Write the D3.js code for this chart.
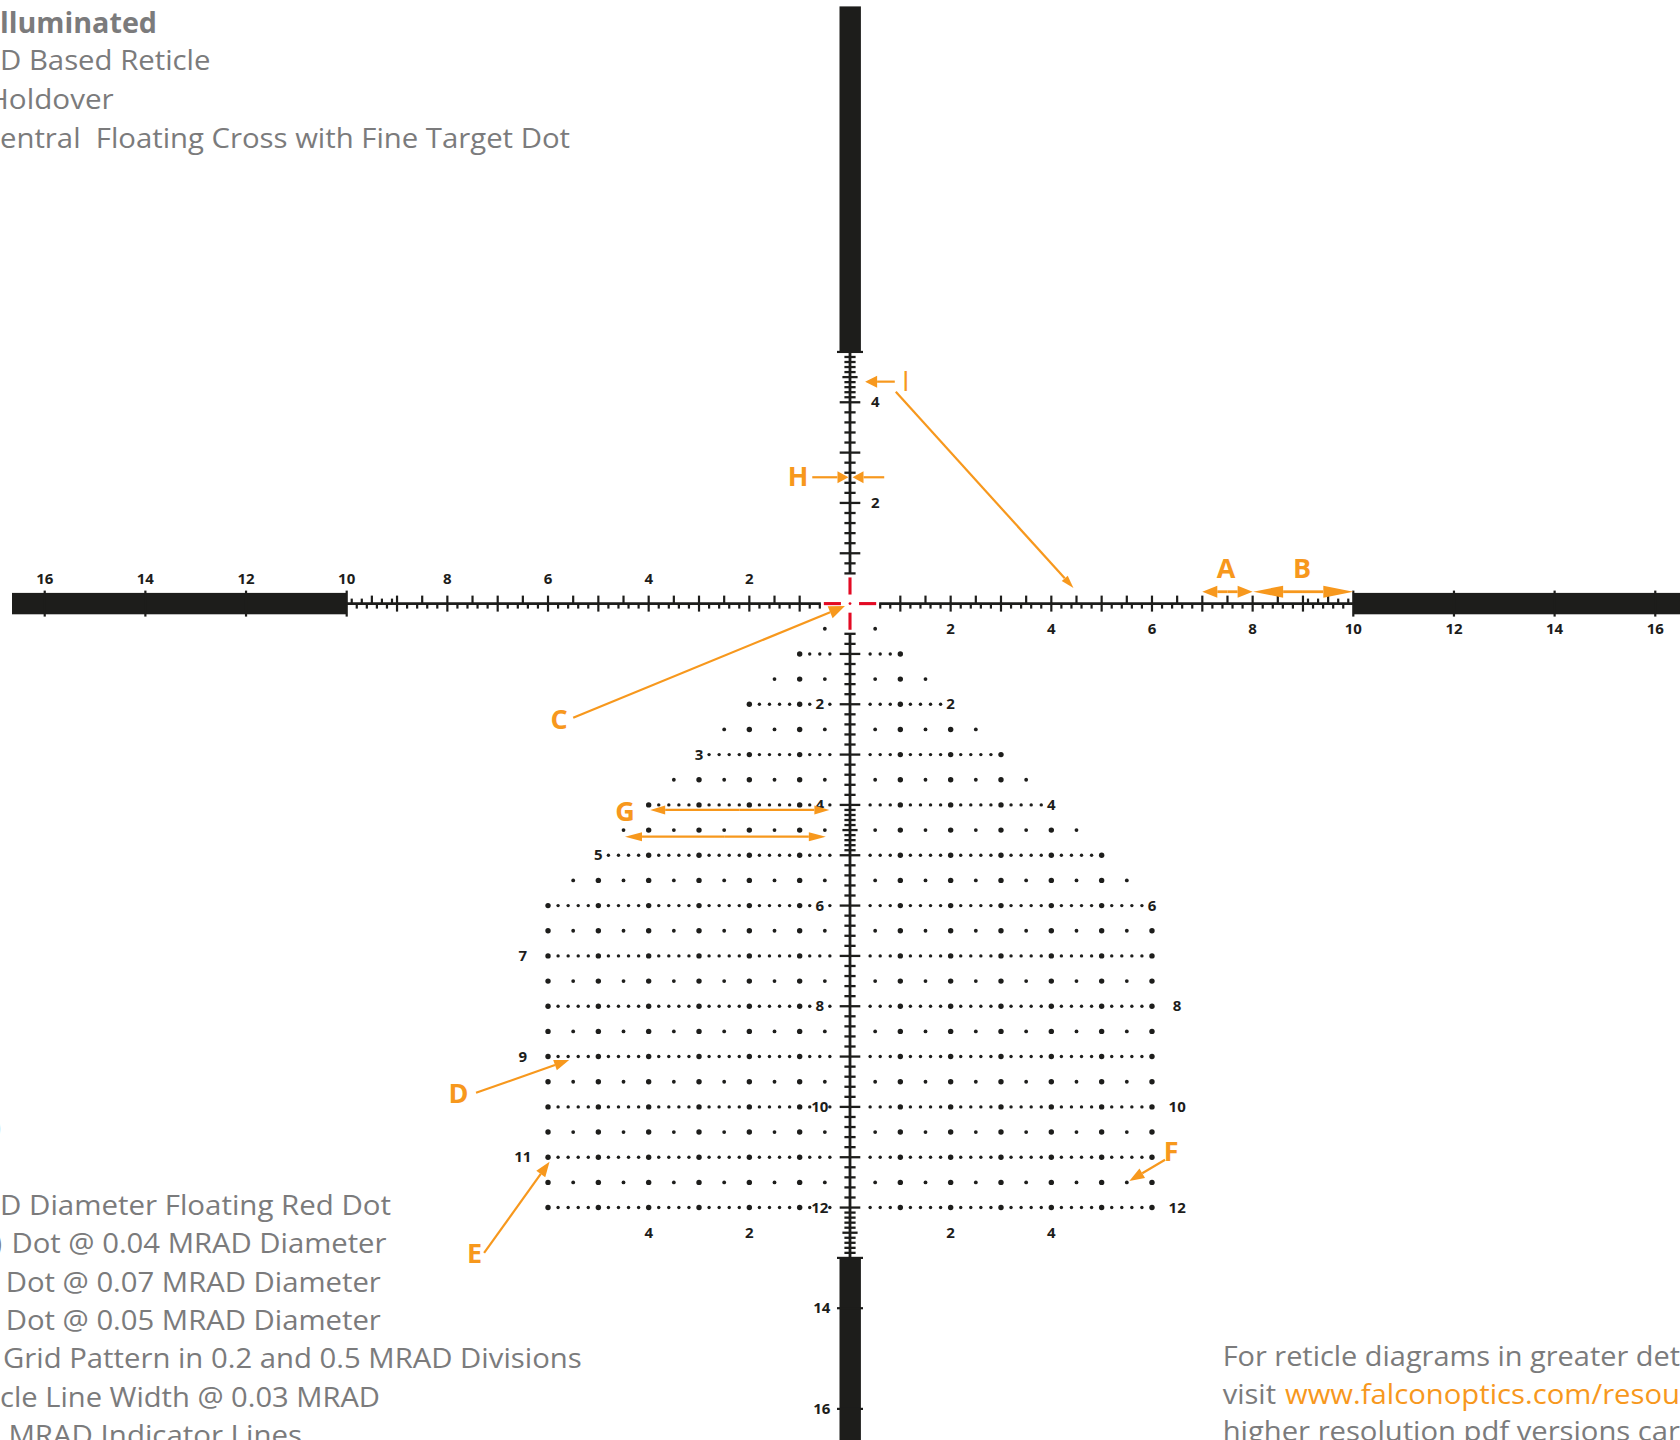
<!DOCTYPE html>
<html><head><meta charset="utf-8">
<script src="https://cdnjs.cloudflare.com/ajax/libs/d3/7.8.5/d3.min.js"></script>
<style>html,body{margin:0;padding:0;background:#fff;overflow:hidden}svg{display:block}</style>
</head><body>
<svg id="c" width="1680" height="1440"></svg>
<script>
// ---- data (all in MRAD from reticle centre; y positive is downward) ----
const rowDepths     = [0.5,1,1.5,2,2.5,3,3.5,4,4.5,5,5.5,6,6.5,7,7.5,8,8.5,9,9.5,10,10.5,11,11.5,12];
const rowLeftLimit  = [0.5,1,1.5,2,2.5,2.8,3.5,4,4.5,4.8,5.5,6,6,6,6,6,6,6,6,6,6,6,6,6];
const rowRightLimit = [0.5,1,1.5,1.8,2.5,3,3.5,3.8,4.5,5,5.5,5.8,6,6,6,6,6,6,6,6,6,6,6,6];
const rowsWithInnerLabel = [2,4,6,8,10,12];
const leftAxisLabels  = [16,14,12,10,8,6,4,2];
const rightAxisLabels = [2,4,6,8,10,12,14,16];
const upAxisLabels    = [2,4];
const downAxisLabels  = [14,16];
const barTicks  = [10,12,14,16];
const downBarTicks = [13,14,16];
const gridLabelText = ["2","4","6","8","10","12","2","3","4","5","6","7","8","9","10","11","12","4","2","2","4"];
const gridLabelX    = [2,4,6,6.5,6.5,6.5,-0.6,-3,-0.6,-5,-0.6,-6.5,-0.6,-6.5,-0.6,-6.5,-0.6,-4,-2,2,4];
const gridLabelY    = [2,4,6,8,10,12,2,3,4,5,6,7,8,9,10,11,12,12.5,12.5,12.5,12.5];
const annotationNames = ["A","A","B","B","C","D","E","F","G1","G1","G2","G2","H","H","I","Long"];
const annotationX1 = [7.5,7.5,9,9,-5.5,-7.43,-7.27,6.26,-2.2,-2.2,-2.5,-2.5,-0.75,0.68,0.89,0.91];
const annotationY1 = [-0.236,-0.236,-0.236,-0.236,2.27,9.72,12.9,11.05,4.1,4.1,4.63,4.63,-2.51,-2.51,-4.41,-4.21];
const annotationX2 = [7,8,8.01,10,-0.1,-5.58,-5.97,5.55,-3.97,-0.41,-4.47,-0.48,-0.03,0.05,0.3,4.44];
const annotationY2 = [-0.236,-0.236,-0.236,-0.236,0.05,9.07,11.09,11.47,4.1,4.1,4.63,4.63,-2.51,-2.51,-4.41,-0.31];
const letterText = ["A","B","C","D","E","F","G","H","I"];
const letterX = [7.47,8.98,-5.78,-7.78,-7.46,6.38,-4.47,-1.03,1.11];
const letterY = [-0.72,-0.72,2.28,9.72,12.9,10.87,4.11,-2.55,-4.44];
const topNotes = ["lluminated","D Based Reticle","Holdover","entral  Floating Cross with Fine Target Dot"];
const bottomNotes = ["D Diameter Floating Red Dot","Dot @ 0.04 MRAD Diameter","Dot @ 0.07 MRAD Diameter","Dot @ 0.05 MRAD Diameter","Grid Pattern in 0.2 and 0.5 MRAD Divisions","cle Line Width @ 0.03 MRAD","MRAD Indicator Lines"];
const footerNotes = ["For reticle diagrams in greater det","visit","www.falconoptics.com/resou","higher resolution pdf versions car"];

// ---- layout ----
const W=1680,H=1440, U=50.33, CX=850, CY=603.6;
const x=d3.scaleLinear().domain([-1,1]).range([CX-U,CX+U]);
const y=d3.scaleLinear().domain([-1,1]).range([CY-U,CY+U]);
const INK="#1d1d1b", RED="#e30a23", ORANGE="#f7981d", GREY="#7b7b7c";
const svg=d3.select("#c");
const TXT="'Open Sans',sans-serif";

function lines(g,data,attrs,w,color){
  g.selectAll(null).data(data).join("line")
   .attr("x1",attrs.x1).attr("y1",attrs.y1).attr("x2",attrs.x2).attr("y2",attrs.y2)
   .attr("stroke",color||INK).attr("stroke-width",w);
}

// ---- heavy posts ----
const BH=10.7;
const posts=svg.append("g").attr("fill",INK);
posts.append("rect").attr("x",12).attr("y",CY-BH).attr("width",x(-10)-12).attr("height",BH*2);
posts.append("rect").attr("x",x(10)).attr("y",CY-BH).attr("width",W-x(10)).attr("height",BH*2);
posts.append("rect").attr("x",CX-BH+.2).attr("y",6.4).attr("width",BH*2).attr("height",y(-5)-6.4);
posts.append("rect").attr("x",CX-BH+.2).attr("y",y(13)).attr("width",BH*2).attr("height",H-y(13));

// ---- horizontal line and ticks ----
const hg=svg.append("g");
const sides=[-1,1];
sides.forEach(s=>{
  hg.append("line").attr("x1",x(s*0.58)).attr("x2",x(s*10)).attr("y1",CY).attr("y2",CY).attr("stroke",INK).attr("stroke-width",2.6);
  const tenths=d3.range(6,100);
  const t=[];
  tenths.forEach(v=>{
    const fine=v>90;
    if(v%10===0) t.push([v,-8,8]);
    else if(v%5===0) t.push([v,-8,0]);
    else if(v%2===0) t.push([v,0,5]);
    else if(fine) t.push([v,-5,0]);
  });
  lines(hg,t,{x1:d=>x(s*d[0]/10),x2:d=>x(s*d[0]/10),y1:d=>CY+d[1],y2:d=>CY+d[2]},2.2);
  lines(hg,barTicks,{x1:d=>x(s*d),x2:d=>x(s*d),y1:CY-13,y2:CY+13},2.2);
});

// ---- vertical line and ticks ----
const vg=svg.append("g");
vg.append("line").attr("x1",CX).attr("x2",CX).attr("y1",y(-5)).attr("y2",y(-0.59)).attr("stroke",INK).attr("stroke-width",2.8);
vg.append("line").attr("x1",CX).attr("x2",CX).attr("y1",y(0.59)).attr("y2",y(13)).attr("stroke",INK).attr("stroke-width",2.8);
function vticks(dir,maxTenth,fineRanges){
  const t=[];
  d3.range(6,maxTenth).forEach(v=>{
    const fine=fineRanges.some(r=>v>r[0]&&v<r[1]);
    if(v%10===0) t.push([v,10.3]);
    else if(fine&&v%5===0) t.push([v,7.6]);
    else if(v%2===0||fine) t.push([v,5.6]);
  });
  lines(vg,t,{x1:d=>CX-d[1],x2:d=>CX+d[1],y1:d=>y(dir*d[0]/10),y2:d=>y(dir*d[0]/10)},2.3);
}
vticks(-1,50,[[40,50]]);
vticks(1,130,[[40,50],[120,130]]);
lines(vg,[-5].concat(downBarTicks),{x1:CX-13,x2:CX+13,y1:d=>y(d),y2:d=>y(d)},2.2);

// ---- red centre cross ----
const rg=svg.append("g");
const redW=3.1;
sides.forEach(s=>{
  rg.append("line").attr("x1",x(s*0.18)).attr("x2",x(s*0.52)).attr("y1",CY).attr("y2",CY).attr("stroke",RED).attr("stroke-width",redW);
  rg.append("line").attr("y1",y(s*0.18)).attr("y2",y(s*0.52)).attr("x1",CX).attr("x2",CX).attr("stroke",RED).attr("stroke-width",redW);
});
rg.append("circle").attr("cx",CX).attr("cy",CY).attr("r",1.4).attr("fill",RED);

// ---- holdover dots ----
const dots=[];
rowDepths.forEach((r,i)=>{
  const isInt=Number.isInteger(r);
  const step=isInt?2:5, first=isInt?4:5;
  [[-1,rowLeftLimit[i]],[1,rowRightLimit[i]]].forEach(([s,lim])=>{
    for(let v=first;v<=Math.round(lim*10);v+=step){
      if(s<0&&v===6&&rowsWithInnerLabel.includes(r)) continue;
      const big=v%10===0;
      dots.push({mx:s*v/10,my:r,r:big?2.7:(isInt?1.7:1.9)});
    }
  });
});
svg.append("g").attr("fill",INK).selectAll("circle").data(dots).join("circle")
  .attr("cx",d=>x(d.mx)).attr("cy",d=>y(d.my)).attr("r",d=>d.r);

// ---- numerals ----
const ng=svg.append("g").attr("fill",INK).attr("font-family",TXT).attr("font-weight",700).attr("font-size",15).attr("text-anchor","middle").attr("dominant-baseline","central").attr("transform","translate(0,-1)");
function nums(data,fx,fy,ft){ng.selectAll(null).data(data).join("text").attr("x",fx).attr("y",fy).text(ft);}
nums(leftAxisLabels,d=>x(-d),y(-0.49),d=>d);
nums(rightAxisLabels,d=>x(d),y(0.51),d=>d);
nums(upAxisLabels,x(0.5),d=>y(-d),d=>d);
nums(downAxisLabels,x(-0.56),d=>y(d),d=>d);
nums(gridLabelText.map((t,i)=>i),i=>x(gridLabelX[i]),i=>y(gridLabelY[i]),i=>gridLabelText[i]);

// ---- orange callouts ----
const heads={A:[15,6],B:[30,6],C:[16,6.5],D:[15,5.5],E:[15,5.5],F:[15,5.5],G1:[15,4.5],G2:[17,4.5],H:[11,6],I:[12,6],Long:[13,4]};
const ag=svg.append("g");
annotationNames.forEach((n,i)=>{
  const x1=x(annotationX1[i]),y1=y(annotationY1[i]),x2=x(annotationX2[i]),y2=y(annotationY2[i]);
  const [hl,hw]=heads[n];
  const a=Math.atan2(y2-y1,x2-x1),c=Math.cos(a),s=Math.sin(a);
  const bx=x2-hl*c,by=y2-hl*s;
  ag.append("line").attr("x1",x1).attr("y1",y1).attr("x2",bx).attr("y2",by).attr("stroke",ORANGE).attr("stroke-width",n==="A"||n==="B"?2.8:2.2);
  const p=d3.path();p.moveTo(x2,y2);p.lineTo(bx-hw*s,by+hw*c);p.lineTo(bx+hw*s,by-hw*c);p.closePath();
  ag.append("path").attr("d",p.toString()).attr("fill",ORANGE);
});
ag.selectAll("text").data(letterText).join("text")
  .attr("x",(d,i)=>x(letterX[i])).attr("y",(d,i)=>y(letterY[i]))
  .attr("font-family",TXT).attr("font-weight",d=>d==="I"?400:700).attr("font-size",27).attr("fill",ORANGE)
  .attr("text-anchor","middle").attr("dominant-baseline","central").text(d=>d);

// ---- side notes ----
const tg=svg.append("g").attr("font-family",TXT).attr("font-size",28).attr("fill",GREY);
function note(t,xs,xe,base,o){
  const e=tg.append("text").attr("x",xs).attr("y",base).attr("textLength",xe-xs).attr("lengthAdjust","spacingAndGlyphs").attr("xml:space","preserve").text(t);
  if(o&&o.bold) e.attr("font-weight",700);
  if(o&&o.fill) e.attr("fill",o.fill);
  return e;
}
const topX=[0,0,-13,0], topE=[157,210.5,113.7,570], topB=[32.7,70.3,109.3,148.3];
topNotes.forEach((t,i)=>note(t,topX[i],topE[i],topB[i],{bold:i===0}));
const botX=[0,11.5,5.7,5.7,3,0,8.4], botE=[391,386.5,380.8,380.8,581.7,380,302], botB=[1215,1253,1291.7,1330,1368,1406.7,1445];
bottomNotes.forEach((t,i)=>note(t,botX[i],botE[i],botB[i]));
note(")",-7,1,1137);
note(")",-6,2,1253);
const footX=[1222.7,1222.7,1285,1222.7], footE=[1680,1276,1680,1680], footB=[1365.7,1404.3,1404.3,1440.7];
footerNotes.forEach((t,i)=>note(t,footX[i],footE[i],footB[i],i===2?{fill:ORANGE}:null));
</script>
</body></html>
